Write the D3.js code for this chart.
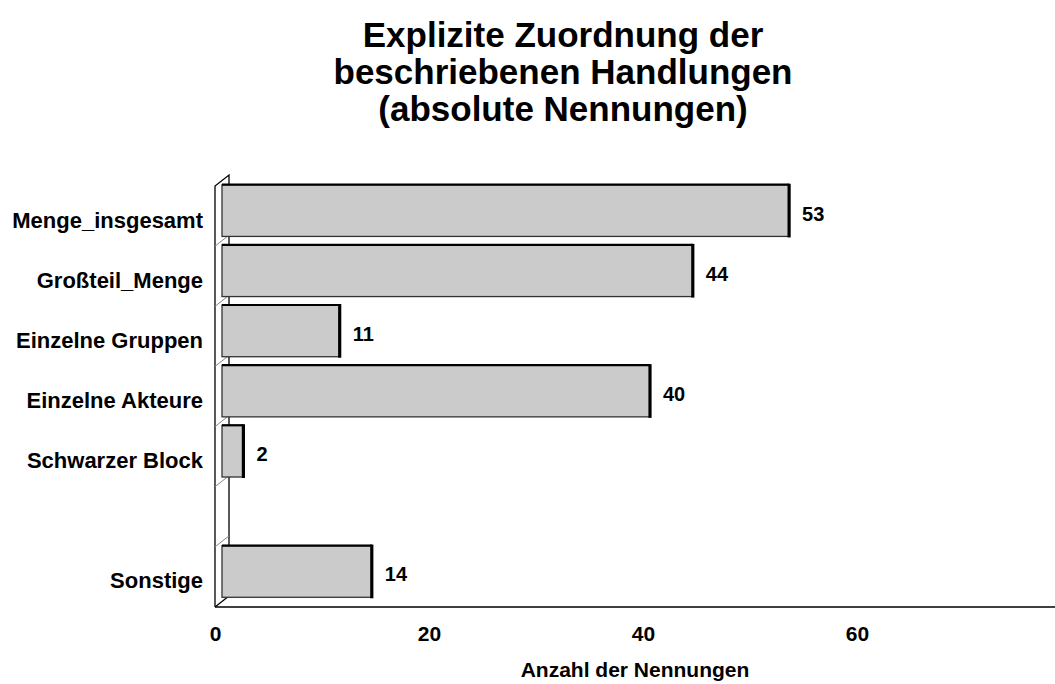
<!DOCTYPE html>
<html>
<head>
<meta charset="utf-8">
<script src="https://cdn.jsdelivr.net/npm/d3@7"></script>
<style>
  body { margin: 0; background: #fff; }
  text { font-family: "Liberation Sans", Arial, Helvetica, sans-serif; font-weight: bold; fill: #000; }
</style>
</head>
<body>
<div id="chart"></div>
<script>
// categories top -> bottom, the empty slot is a gap in the original chart
const categories = ["Menge_insgesamt", "Großteil_Menge", "Einzelne Gruppen", "Einzelne Akteure", "Schwarzer Block", "", "Sonstige"];
const values = [53, 44, 11, 40, 2, null, 14];
const tickValues = [0, 20, 40, 60];
const titleLines = ["Explizite Zuordnung der", "beschriebenen Handlungen", "(absolute Nennungen)"];
const axisTitle = "Anzahl der Nennungen";

const width = 1055;
const height = 684;
// front plane of the 3d wall + depth offset
const front = {left: 215, top: 186, bottom: 607};
const depth = {dx: 14, dy: -11};

const svg = d3.create("svg")
    .attr("width", width)
    .attr("height", height);

const xScale = d3.scaleLinear()
    .domain([0, 80])
    .range([front.left, front.left + 80 * 10.7]);

const yScale = d3.scaleBand()
    .domain(categories)
    .range([front.top, front.bottom])
    .paddingInner(0.14)
    .paddingOuter(0.07);

// title
svg.append("text")
    .attr("text-anchor", "middle")
    .attr("font-size", 35)
    .selectAll("tspan")
    .data(titleLines)
    .join("tspan")
    .attr("x", 563)
    .attr("y", (d, i) => 47 + i * 37)
    .text(d => d);

// wall (left side, drawn in perspective)
const wall = svg.append("g")
    .attr("fill", "none");

const bx = front.left + depth.dx;
wall.append("path")
    .attr("d", `M${front.left},${front.bottom} L${front.left},${front.top} L${bx},${front.top + depth.dy} L${bx},${front.bottom + depth.dy}`)
    .attr("stroke", "#000")
    .attr("stroke-width", 1.3);

// category separators on the wall
const step = yScale.step();
wall.selectAll(".sep")
    .data(d3.range(1, categories.length))
    .join("line")
    .attr("class", "sep")
    .attr("x1", front.left)
    .attr("x2", bx)
    .attr("y1", k => front.top + k * step)
    .attr("y2", k => front.top + k * step + depth.dy)
    .attr("stroke", "#888")
    .attr("stroke-width", 1);

// floor
wall.append("line")
    .attr("x1", bx)
    .attr("y1", front.bottom + depth.dy)
    .attr("x2", front.left)
    .attr("y2", front.bottom)
    .attr("stroke", "#000")
    .attr("stroke-width", 1.3);
wall.append("line")
    .attr("x1", front.left)
    .attr("y1", front.bottom)
    .attr("x2", width)
    .attr("y2", front.bottom)
    .attr("stroke", "#000")
    .attr("stroke-width", 1.3);

// bars sit in the middle of the depth
const ox = depth.dx / 2;
const oy = depth.dy / 2;
const data = categories.map((c, i) => ({cat: c, value: values[i]})).filter(d => d.value != null);

const bars = svg.append("g")
    .selectAll("g")
    .data(data)
    .join("g");

bars.append("rect")
    .attr("x", xScale(0) + ox)
    .attr("y", d => yScale(d.cat) + oy)
    .attr("width", d => xScale(d.value) - xScale(0))
    .attr("height", yScale.bandwidth())
    .attr("fill", "#cbcbcb")
    .attr("stroke", "#333")
    .attr("stroke-width", 1.3);

// top edge
bars.append("line")
    .attr("x1", xScale(0) + ox)
    .attr("x2", d => xScale(d.value) + ox)
    .attr("y1", d => yScale(d.cat) + oy)
    .attr("y2", d => yScale(d.cat) + oy)
    .attr("stroke", "#000")
    .attr("stroke-width", 2.2);

// right edge
bars.append("line")
    .attr("x1", d => xScale(d.value) + ox)
    .attr("x2", d => xScale(d.value) + ox)
    .attr("y1", d => yScale(d.cat) + oy - 1)
    .attr("y2", d => yScale(d.cat) + oy + yScale.bandwidth() + 1)
    .attr("stroke", "#000")
    .attr("stroke-width", 3.2);

// value labels
bars.append("text")
    .attr("x", d => xScale(d.value) + ox + 13)
    .attr("y", d => yScale(d.cat) + oy + yScale.bandwidth() / 2 + 10)
    .attr("font-size", 20)
    .text(d => d.value);

// category labels
svg.append("g")
    .selectAll("text")
    .data(categories.filter(c => c !== ""))
    .join("text")
    .attr("x", 203)
    .attr("y", d => yScale(d) + oy + yScale.bandwidth() / 2 + 17)
    .attr("text-anchor", "end")
    .attr("font-size", 22)
    .text(d => d);

// x axis tick labels
const xAxis = svg.append("g")
    .attr("transform", `translate(0, ${front.bottom})`)
    .call(d3.axisBottom(xScale).tickValues(tickValues).tickSize(0).tickPadding(19).tickFormat(d3.format("d")))
    .call(g => g.select(".domain").remove());
xAxis.attr("font-family", null).attr("font-size", null);
xAxis.selectAll("text")
    .attr("font-size", 21)
    .style("fill", "#000");

svg.append("text")
    .attr("x", (front.left + width) / 2)
    .attr("y", 677)
    .attr("text-anchor", "middle")
    .attr("font-size", 21)
    .text(axisTitle);

document.getElementById("chart").appendChild(svg.node());
</script>
</body>
</html>
